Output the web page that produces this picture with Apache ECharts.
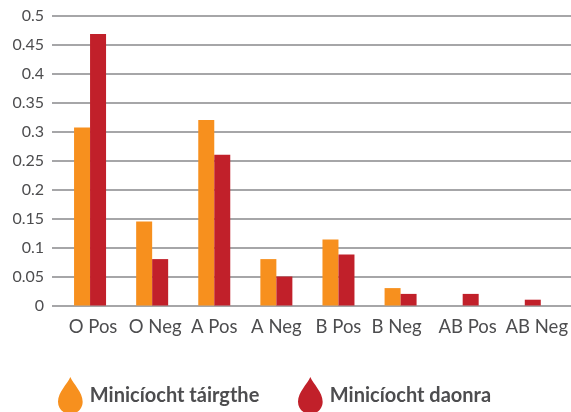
<!DOCTYPE html>
<html><head><meta charset="utf-8">
<style>html,body{margin:0;padding:0;background:#fff;overflow:hidden}#c{width:571px;height:412px}</style>
<script src="https://cdn.jsdelivr.net/npm/echarts@6/dist/echarts.min.js"></script>
</head><body><div id="c"></div>
<script>
const categories = ['O Pos','O Neg','A Pos','A Neg','B Pos','B Neg','AB Pos','AB Neg'];
const produced = [0.307,0.145,0.32,0.08,0.114,0.03,0,0];
const population = [0.468,0.08,0.26,0.05,0.088,0.02,0.02,0.01];
const seriesNames = ['Minicíocht táirgthe','Minicíocht daonra'];
const colours = ['#F7901E','#C1202A'];
const labelShift = [3,3,0,0,0,-4,5,12];
const drop = 'path://M50 0C62 28 100 62 100 100C100 128 78 150 50 150C22 150 0 128 0 100C0 62 38 28 50 0Z';
const font = 'Lato';
const textColor = '#4d4d4f';
const chart = echarts.init(document.getElementById('c'), null, {renderer:'canvas'});
function legend(name,left){return {
  data:[{name:name,icon:drop}],left:left,top:377,padding:0,itemWidth:25,itemHeight:37,itemGap:0,
  textStyle:{fontFamily:font,fontWeight:'bold',fontSize:20,color:textColor,padding:[0,0,0,2]}
};}
const labelledCategories = categories.map((c,i)=>({
  value:c,
  textStyle:{padding:labelShift[i]>=0?[0,0,0,2*labelShift[i]]:[0,-2*labelShift[i],0,0]}
}));
chart.setOption({
  animation:false,
  backgroundColor:'#fff',
  legend:[legend(seriesNames[0],58),legend(seriesNames[1],298)],
  grid:[
    {left:52,right:0,top:15.5,height:290},
    {left:59,width:497,top:15.5,height:290}
  ],
  xAxis:[
    {type:'category',gridIndex:0,data:categories,show:false},
    {type:'category',gridIndex:1,data:labelledCategories,
     axisLine:{show:false},axisTick:{show:false},
     axisLabel:{fontFamily:font,fontSize:18.5,color:textColor,margin:12,interval:0,hideOverlap:false}}
  ],
  yAxis:[
    {type:'value',gridIndex:0,min:0,max:0.5,interval:0.05,
     axisLine:{show:false},axisTick:{show:false},
     axisLabel:{fontFamily:font,fontSize:16,color:textColor,margin:8},
     splitLine:{show:true,lineStyle:{color:'#89898b',width:1.5}}},
    {type:'value',gridIndex:1,min:0,max:0.5,interval:0.05,show:false,splitLine:{show:false}}
  ],
  series:[
    {name:seriesNames[0],type:'bar',xAxisIndex:1,yAxisIndex:1,data:produced,barWidth:16,barGap:0,itemStyle:{color:colours[0]}},
    {name:seriesNames[1],type:'bar',xAxisIndex:1,yAxisIndex:1,data:population,barWidth:16,barGap:0,itemStyle:{color:colours[1]}}
  ]
});
</script></body></html>
